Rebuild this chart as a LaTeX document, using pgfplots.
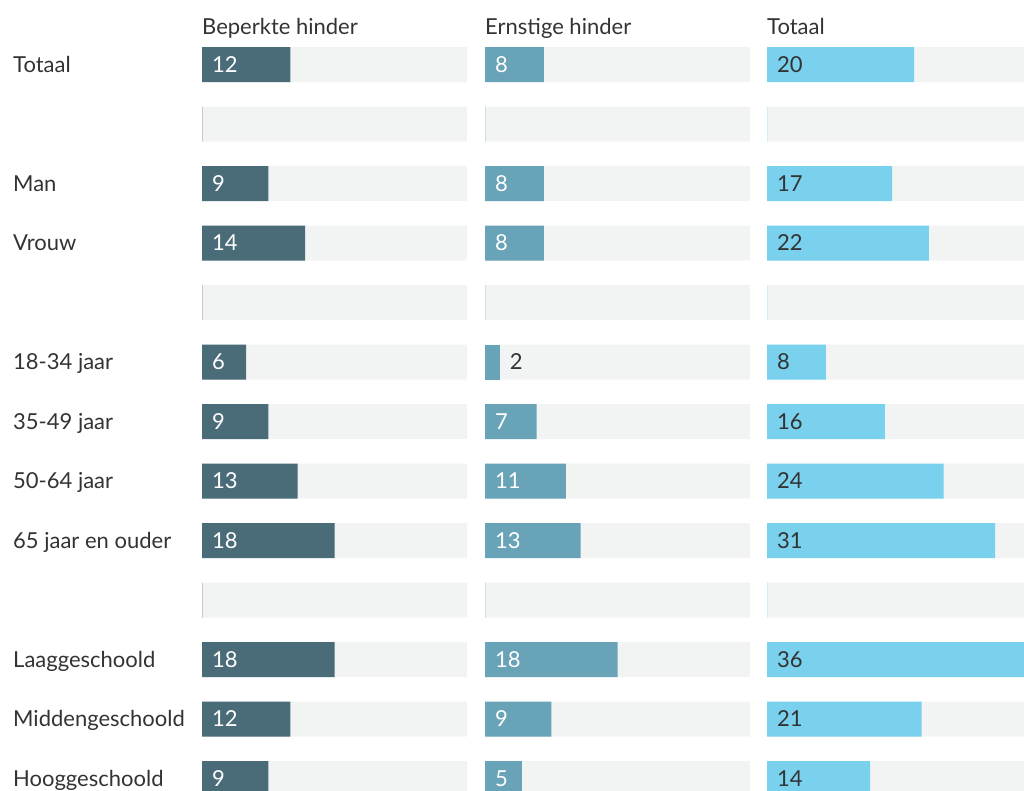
\documentclass[border=0pt]{standalone}
\usepackage{pgfplots}
\pgfplotsset{compat=1.18}
\usepackage{pgfplotstable}
\usepackage{fontspec}
\setmainfont{Lato}
\definecolor{cA}{HTML}{4A6B78}
\definecolor{cB}{HTML}{68A3B7}
\definecolor{cC}{HTML}{79D1EE}
\definecolor{bgc}{HTML}{F2F4F3}
\definecolor{txt}{HTML}{333333}
\newcommand{\lf}{\fontsize{22}{26}\selectfont}

% y = row index (0 = top), v = value, lx = label position
\pgfplotstableread{
y v lx
0 12 0
2 9 0
3 14 0
5 6 0
6 9 0
7 13 0
8 18 0
10 18 0
11 12 0
12 9 0
}\tA
\pgfplotstableread{
y v lx
0 8 0
2 8 0
3 8 0
6 7 0
7 11 0
8 13 0
10 18 0
11 9 0
12 5 0
}\tB
\pgfplotstableread{
y v
5 2
}\tBs
\pgfplotstableread{
y v lx
0 20 0
2 17 0
3 22 0
5 8 0
6 16 0
7 24 0
8 31 0
10 36 0
11 21 0
12 14 0
}\tC
\pgfplotstableread{
y v
0 36
1 36
2 36
3 36
4 36
5 36
6 36
7 36
8 36
9 36
10 36
11 36
12 36
}\tBg
\pgfplotstableread{
y v
1 0.12
4 0.12
9 0.12
}\tBlank

\pgfplotsset{
  panel/.style={
    scale only axis, width=265pt, height=773.5pt,
    xmin=0, xmax=36, ymin=-0.5, ymax=12.5, y dir=reverse,
    axis line style={draw=none}, xtick=\empty, ytick=\empty,
    major tick length=0pt, clip=true, anchor=north west,
    /pgf/number format/assume math mode=true,
    title style={at={(0,1)}, anchor=base west, inner sep=0pt, yshift=-5.5pt,
      font=\lf, text=txt},
  },
  bgbar/.style={xbar, bar width=35pt, bar shift=0pt, fill=bgc, draw=none},
  valbar/.style={xbar, bar width=35pt, bar shift=0pt, fill=#1, draw=none},
  lbl/.style={draw=none, mark=none, nodes near coords, point meta=explicit,
    every node near coord/.style={anchor=base west, xshift=10pt, yshift=-7.9pt,
      inner sep=0pt, text=#1, font=\lf}},
}

\begin{document}
\begin{tikzpicture}
\useasboundingbox (0,0) rectangle (1024pt,-791pt);

\begin{axis}[panel, at={(202pt,-34.75pt)}, title={Beperkte hinder},
  ytick={0,...,12},
  yticklabels={Totaal,,Man,Vrouw,,18-34 jaar,35-49 jaar,50-64 jaar,65 jaar en ouder,,Laaggeschoold,Middengeschoold,Hooggeschoold},
  yticklabel style={anchor=base west, xshift=-189pt, yshift=-7.9pt, inner sep=0pt, font=\lf, text=txt}]
\addplot[bgbar] table[x=v,y=y]{\tBg};
\addplot[valbar=cA!35] table[x=v,y=y]{\tBlank};
\addplot[valbar=cA] table[x=v,y=y]{\tA};
\addplot[lbl=white] table[x=lx,y=y,meta=v]{\tA};
\end{axis}

\begin{axis}[panel, at={(485pt,-34.75pt)}, title={Ernstige hinder}]
\addplot[bgbar] table[x=v,y=y]{\tBg};
\addplot[valbar=cB!35] table[x=v,y=y]{\tBlank};
\addplot[valbar=cB] table[x=v,y=y]{\tB};
\addplot[valbar=cB] table[x=v,y=y]{\tBs};
\addplot[lbl=white] table[x=lx,y=y,meta=v]{\tB};
\addplot[lbl=txt] table[x=v,y=y,meta=v]{\tBs};
\end{axis}

\begin{axis}[panel, at={(767pt,-34.75pt)}, width=257pt, xmax=34.92, title={Totaal}]
\addplot[bgbar] table[x=v,y=y]{\tBg};
\addplot[valbar=cC!35] table[x=v,y=y]{\tBlank};
\addplot[valbar=cC] table[x=v,y=y]{\tC};
\addplot[lbl=txt] table[x=lx,y=y,meta=v]{\tC};
\end{axis}
\end{tikzpicture}
\end{document}
